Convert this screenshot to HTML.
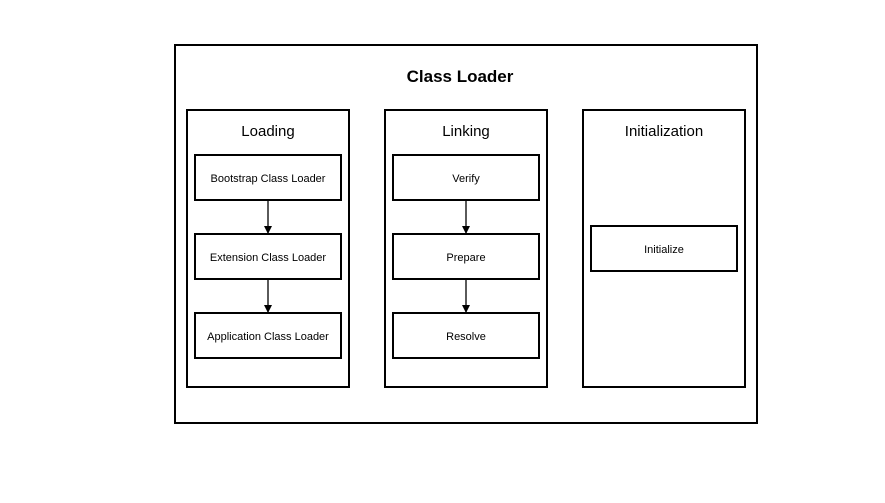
<!DOCTYPE html>
<html><head><style>
body{margin:0;background:#fff;}
</style></head><body>
<svg width="885" height="498" xmlns="http://www.w3.org/2000/svg" font-family="Liberation Sans, sans-serif">
<defs><marker id="a" markerWidth="8" markerHeight="8" refX="7" refY="4" orient="auto" markerUnits="userSpaceOnUse"><path d="M0,0 L8,4 L0,8 z" fill="#000"/></marker></defs>
<g fill="none" stroke="#000" stroke-width="2">
<rect x="175" y="45" width="582" height="378"/>
<rect x="187" y="110" width="162" height="277"/>
<rect x="385" y="110" width="162" height="277"/>
<rect x="583" y="110" width="162" height="277"/>
<rect x="195" y="155" width="146" height="45"/>
<rect x="195" y="234" width="146" height="45"/>
<rect x="195" y="313" width="146" height="45"/>
<rect x="393" y="155" width="146" height="45"/>
<rect x="393" y="234" width="146" height="45"/>
<rect x="393" y="313" width="146" height="45"/>
<rect x="591" y="226" width="146" height="45"/>
</g>
<g stroke="#000" stroke-width="1.3" marker-end="url(#a)">
<line x1="268" y1="200" x2="268" y2="233"/>
<line x1="268" y1="279" x2="268" y2="312"/>
<line x1="466" y1="200" x2="466" y2="233"/>
<line x1="466" y1="279" x2="466" y2="312"/>
</g>
<g text-anchor="middle" fill="#000">
<text x="460" y="82" font-size="17" font-weight="bold">Class Loader</text>
<text x="268" y="136" font-size="15">Loading</text>
<text x="466" y="136" font-size="15">Linking</text>
<text x="664" y="136" font-size="15">Initialization</text>
<g font-size="11">
<text x="268" y="182">Bootstrap Class Loader</text>
<text x="268" y="261">Extension Class Loader</text>
<text x="268" y="340">Application Class Loader</text>
<text x="466" y="182">Verify</text>
<text x="466" y="261">Prepare</text>
<text x="466" y="340">Resolve</text>
<text x="664" y="253">Initialize</text>
</g></g>
</svg>
</body></html>
